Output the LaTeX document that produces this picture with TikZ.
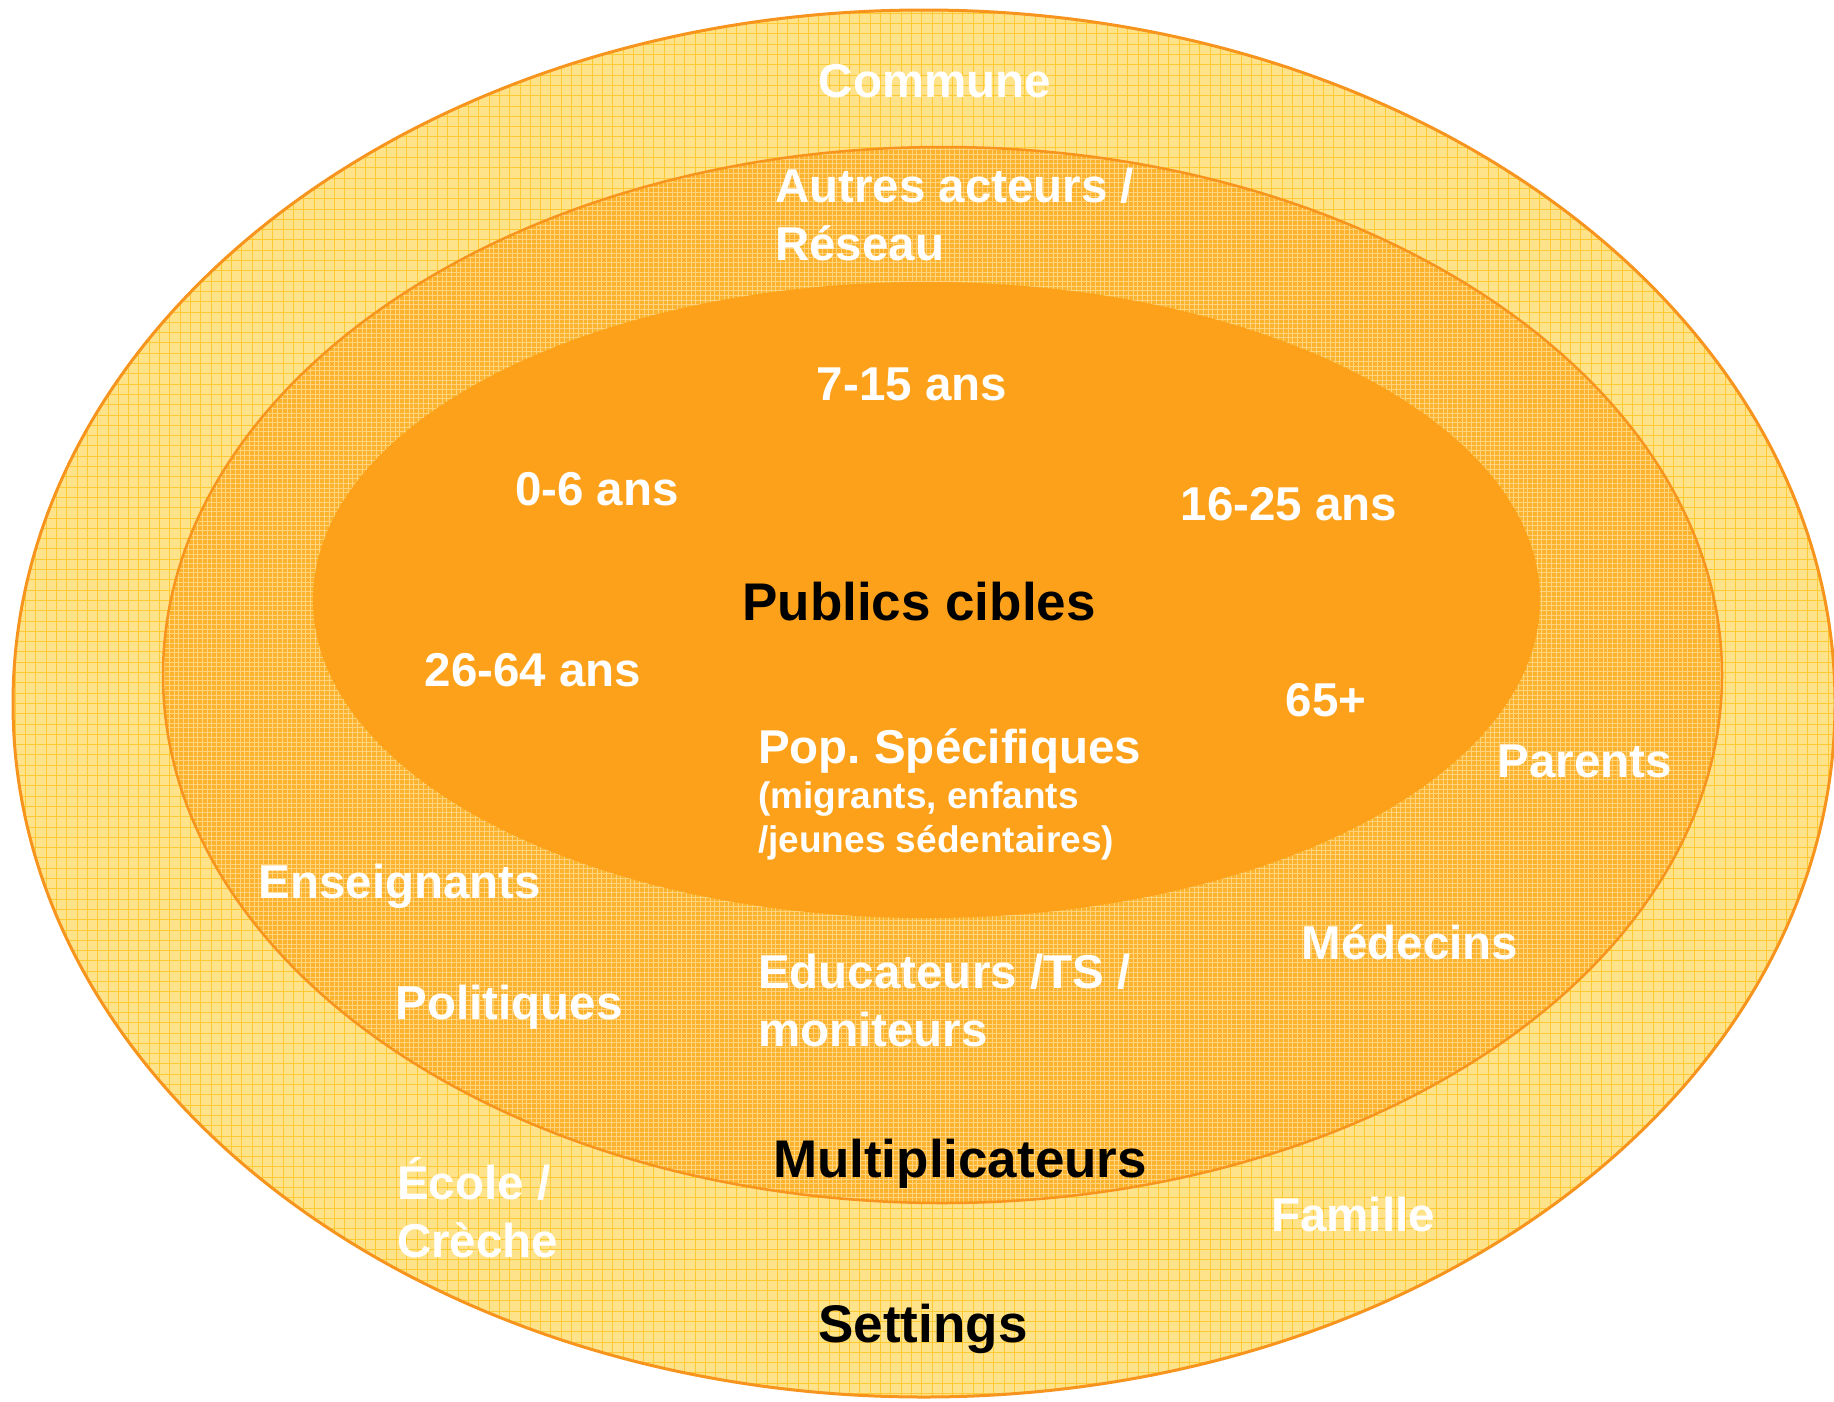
\documentclass[tikz,border=0pt]{standalone}
\usepackage{fontspec}
\setmainfont{Liberation Sans}

\definecolor{rim}{HTML}{F7941D}
\definecolor{settingsfill}{HTML}{FFE38A}
\definecolor{settingsgrid}{HTML}{FFC933}
\definecolor{multifill}{HTML}{FCB22C}
\definecolor{multigrid}{HTML}{FFD47C}
\definecolor{publicsfill}{HTML}{FCA119}

\begin{document}
\begin{tikzpicture}[x=1pt,y=-1pt,
  lbl/.style={text=white,font=\bfseries\fontsize{47.5}{58}\selectfont,inner sep=0pt},
  small/.style={text=white,font=\bfseries\fontsize{37}{44}\selectfont,inner sep=0pt},
  title/.style={text=black,font=\bfseries\fontsize{53}{60}\selectfont,inner sep=0pt}]

\useasboundingbox (0,0) rectangle (1834,1401);

% outer ring: settings
\fill[settingsfill] (924,703.5) ellipse [x radius=911, y radius=693.5];
\begin{scope}
\clip (924,703.5) ellipse [x radius=911, y radius=693.5];
\foreach \x in {5,15.3,...,1834} \draw[settingsgrid,line width=1pt] (\x,0) -- (\x,1401);
\foreach \y in {3,13.3,...,1401} \draw[settingsgrid,line width=1pt] (0,\y) -- (1834,\y);
\end{scope}
\draw[rim,line width=3pt] (924,703.5) ellipse [x radius=911, y radius=693.5];

% middle ring: multiplicateurs
\fill[multifill] (942.5,675) ellipse [x radius=779.5, y radius=528];
\begin{scope}
\clip (942.5,675) ellipse [x radius=779.5, y radius=528];
\foreach \x in {160,164.7,...,1725} \draw[multigrid,line width=0.7pt] (\x,140) -- (\x,1210);
\foreach \y in {145,149.7,...,1206} \draw[multigrid,line width=0.7pt] (160,\y) -- (1725,\y);
\end{scope}
\draw[rim,line width=2.5pt] (942.5,675) ellipse [x radius=779.5, y radius=528];

% inner ring: publics cibles
\fill[publicsfill] (926.5,600) ellipse [x radius=613.5, y radius=318];

% labels (multi-line nodes sit on the baseline of their last line)
\node[lbl,anchor=base] (commune) at (935,97) {Commune};
\node[lbl,anchor=base west,align=left] (reseau) at (775,260) {Autres acteurs /\\Réseau};

\node[lbl,anchor=base] (a715) at (912,400) {7-15 ans};
\node[lbl,anchor=base] (a06) at (597,505) {0-6 ans};
\node[lbl,anchor=base] (a1625) at (1289,520) {16-25 ans};
\node[title,anchor=base] (publics) at (919,620) {Publics cibles};
\node[lbl,anchor=base] (a2664) at (533,686) {26-64 ans};
\node[lbl,anchor=base] (a65) at (1326,716) {65+};
\node[lbl,anchor=base west] (pop) at (758,763) {Pop.\ Spécifiques};
\node[small,anchor=base west,align=left] (popdet) at (758,852) {(migrants, enfants\\/jeunes sédentaires)};

\node[lbl,anchor=base] (parents) at (1585,777) {Parents};
\node[lbl,anchor=base] (enseignants) at (400,898) {Enseignants};
\node[lbl,anchor=base] (medecins) at (1410,959) {Médecins};
\node[lbl,anchor=base] (politiques) at (509,1019) {Politiques};
\node[lbl,anchor=base west,align=left] (educ) at (758,1046) {Educateurs /TS /\\moniteurs};
\node[title,anchor=base] (multi) at (960,1177) {Multiplicateurs};

\node[lbl,anchor=base west,align=left] (ecole) at (397,1257) {École /\\Crèche};
\node[lbl,anchor=base] (famille) at (1353,1231) {Famille};
\node[title,anchor=base] (settings) at (923,1342) {Settings};

\end{tikzpicture}
\end{document}
